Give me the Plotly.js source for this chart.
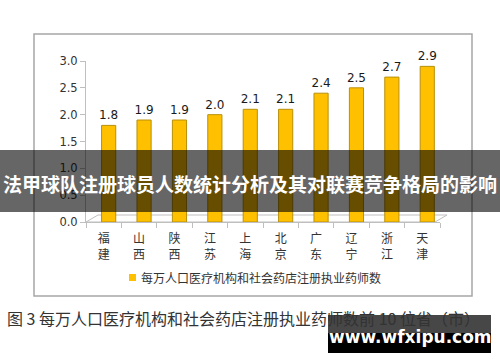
<!DOCTYPE html>
<html><head><meta charset="utf-8">
<script src="https://cdn.plot.ly/plotly-3.0.1.min.js"></script>
<style>html,body{margin:0;padding:0;background:#fff}#chart{width:500px;height:362px}</style>
</head><body><div id="chart"></div>
<script>
const provinces = ["福建","山西","陕西","江苏","上海","北京","广东","辽宁","浙江","天津"];
const values = [1.8,1.9,1.9,2.0,2.1,2.1,2.4,2.5,2.7,2.9];
const seriesName = "每万人口医疗机构和社会药店注册执业药师数";
const yTicks = [0,0.5,1.0,1.5,2.0,2.5,3.0];
const caption = "图 3 每万人口医疗机构和社会药店注册执业药师数前 10 位省（市）";
const bannerText = "法甲球队注册球员人数统计分析及其对联赛竞争格局的影响";
const watermark = "www.wfxipu.com";

const L=86, R=440, T=61, B=222, W=500, H=362;
const px = x => (x-L)/(R-L);
const py = y => (B-y)/(B-T);
const cjk = "Noto Sans CJK SC, sans-serif";

const trace = {
  type:"bar", x:provinces, y:values, name:seriesName,
  width:0.4, offset:-0.06,
  marker:{color:"#FFC000", line:{color:"#B8900A", width:1}},
  text:values.map(v=>v.toFixed(1)), textposition:"outside", constraintext:"none",
  textfont:{family:"DejaVu Sans, sans-serif", size:12, color:"#1a1a1a"},
  cliponaxis:false, hoverinfo:"none"
};

const layout = {
  width:W, height:H,
  margin:{l:L, r:W-R, t:T, b:H-B, pad:0},
  paper_bgcolor:"#fff", plot_bgcolor:"rgba(0,0,0,0)",
  showlegend:false,
  xaxis:{type:"category", tickvals:provinces, ticktext:provinces.map(p=>p[0]+"<br>"+p[1]),
    tickfont:{family:cjk, size:12, color:"#333"}, showline:true, linecolor:"#BFBFBF",
    ticks:"outside", tickson:"boundaries", ticklen:5, tickcolor:"#BFBFBF", showgrid:false,
    ticklabelstandoff:6, fixedrange:true},
  yaxis:{range:[0,3], tickvals:yTicks, ticktext:yTicks.map(v=>v.toFixed(1)),
    tickfont:{family:"DejaVu Sans, sans-serif", size:11.5, color:"#333"},
    showline:true, linecolor:"#BFBFBF", ticks:"outside", ticklen:5, tickcolor:"#BFBFBF",
    showgrid:false, zeroline:false, fixedrange:true},
  shapes:[
    {type:"path", xref:"paper", yref:"paper", layer:"below",
     path:`M0,0 L${px(435)},0 L${px(447)},${py(215)} L${px(98)},${py(215)} Z`,
     line:{color:"#BFBFBF", width:1}, fillcolor:"rgba(0,0,0,0)"},
    {type:"rect", xref:"paper", yref:"paper", x0:px(34), x1:px(472), y0:py(296), y1:py(34),
     line:{color:"#A6A6A6", width:1.5}},
    {type:"rect", xref:"paper", yref:"paper", x0:px(129), x1:px(136), y0:py(281), y1:py(274),
     line:{width:0}, fillcolor:"#FFC000"},
    {type:"rect", xref:"paper", yref:"paper", layer:"above", x0:px(0), x1:px(500), y0:py(212), y1:py(150),
     line:{width:0}, fillcolor:"rgba(0,0,0,0.6)"},
    {type:"rect", xref:"paper", yref:"paper", layer:"above", x0:px(328), x1:px(491), y0:py(333), y1:py(315),
     line:{width:0}, fillcolor:"rgba(0,0,0,0.72)"},
    {type:"rect", xref:"paper", yref:"paper", layer:"above", x0:px(328), x1:px(491), y0:py(353), y1:py(333),
     line:{width:0}, fillcolor:"#000"}
  ],
  annotations:[
    {xref:"paper", yref:"paper", x:px(139), y:py(277), xanchor:"left", yanchor:"middle", showarrow:false,
     text:seriesName, font:{family:cjk, size:12, color:"#333"}},
    {xref:"paper", yref:"paper", x:px(5), y:py(318), xanchor:"left", yanchor:"middle", showarrow:false,
     text:caption, font:{family:cjk, size:16, color:"#333"}},
    {xref:"paper", yref:"paper", x:px(250), y:py(183), xanchor:"center", yanchor:"middle", showarrow:false,
     text:"<b>"+bannerText+"</b>", font:{family:cjk, size:19, color:"#fff"}},
    {xref:"paper", yref:"paper", x:px(410), y:py(337), xanchor:"center", yanchor:"middle", showarrow:false,
     text:"<b>"+watermark+"</b>", font:{family:"DejaVu Sans, sans-serif", size:17, color:"#fff"}}
  ]
};
Plotly.newPlot("chart",[trace],layout,{displayModeBar:false, staticPlot:true});
</script></body></html>
